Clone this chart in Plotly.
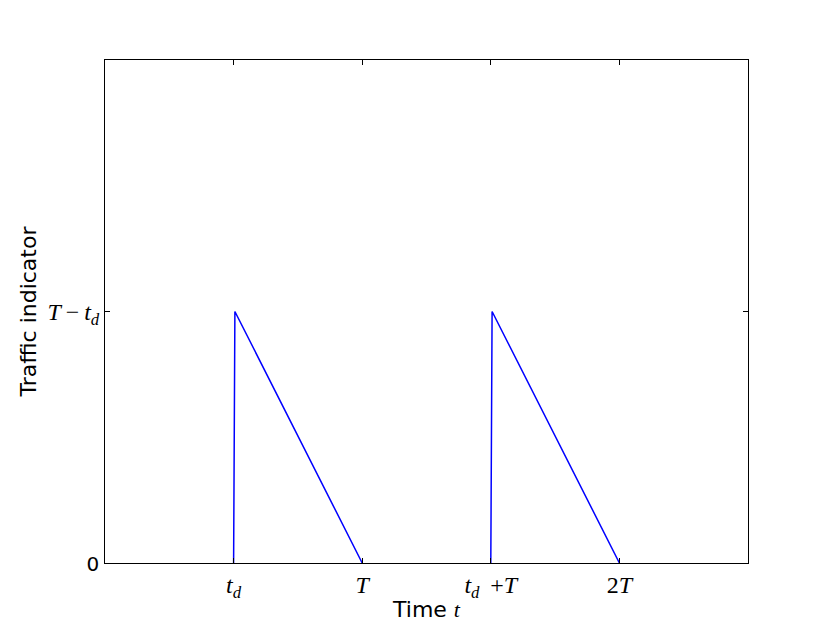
import plotly.graph_objects as go

# sawtooth traffic indicator, td = 1, T = 2 (None breaks the flat part on the axis)
time = [1.0, 1.01, 2.0, None, 3.0, 3.01, 4.0]
indicator = [0, 1, 0, None, 0, 1, 0]

x_tickvals = [1, 2, 3, 4]
x_ticktext = [
    "<i>t</i><sub><i>d</i></sub>",
    "<i>T</i>",
    "<i>t</i><sub><i>d</i></sub>\u2009 +<i>T</i>",
    "2<i>T</i>",
]
y_tickvals = [0, 1]
y_ticktext = [
    "<span style='font-family:DejaVu Sans;font-size:20px'>0</span>",
    "<i>T</i>\u2009\u2212\u2009<i>t</i><sub><i>d</i></sub>",
]

serif = "Liberation Serif"
sans = "DejaVu Sans"

trace = go.Scatter(
    x=time,
    y=indicator,
    mode="lines",
    line=dict(color="#0000ff", width=1.5),
    connectgaps=False,
    showlegend=False,
)

# page body has an 8px margin, so the figure is 8px smaller on each side
layout = go.Layout(
    width=822,
    height=619,
    margin=dict(l=97, r=82, t=52, b=64),
    plot_bgcolor="white",
    paper_bgcolor="white",
    font=dict(family=sans, size=22, color="black"),
    xaxis=dict(
        range=[0, 5],
        tickvals=x_tickvals,
        ticktext=x_ticktext,
        tickfont=dict(family=serif, size=24),
        ticks="inside",
        ticklen=5,
        tickcolor="black",
        showline=True,
        linecolor="black",
        linewidth=1,
        mirror="ticks",
        showgrid=False,
        zeroline=False,
        automargin=False,
        title=dict(
            text="Time <span style='font-family:Liberation Serif'><i>t</i></span>",
            font=dict(family=sans, size=22),
            standoff=0,
        ),
    ),
    yaxis=dict(
        range=[0, 2],
        tickvals=y_tickvals,
        ticktext=y_ticktext,
        tickfont=dict(family=serif, size=24),
        ticks="inside",
        ticklen=5,
        tickcolor="black",
        showline=True,
        linecolor="black",
        linewidth=1,
        mirror="ticks",
        showgrid=False,
        zeroline=False,
        automargin=False,
        title=dict(
            text="Traffic indicator",
            font=dict(family=sans, size=22),
            standoff=4,
        ),
    ),
)

fig = go.Figure([trace], layout)
fig.write_html("out.html")
